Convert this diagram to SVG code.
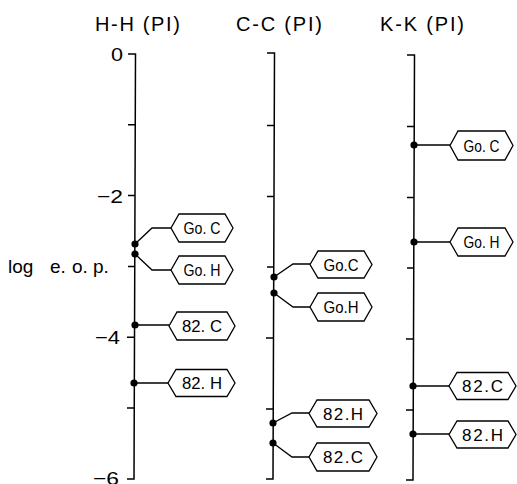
<svg xmlns="http://www.w3.org/2000/svg" width="517" height="484" viewBox="0 0 517 484">
<style>
.ax{stroke:#000;stroke-width:1.5;fill:none}
.cn{stroke:#000;stroke-width:1.3;fill:none}
.hx{stroke:#000;stroke-width:1.3;fill:#fff}
.dot{fill:#000}
.t{font-family:"Liberation Sans",Arial,sans-serif;fill:#000}
.ttl{font-size:20px}
.num{font-size:19px}
.lb{font-size:17px;text-anchor:middle}
</style>
<rect width="517" height="484" fill="#fff"/>
<g id="titles">
<text class="t ttl" x="95" y="31" textLength="85" lengthAdjust="spacing">H-H (PI)</text>
<text class="t ttl" x="236" y="31" textLength="86" lengthAdjust="spacing">C-C (PI)</text>
<text class="t ttl" x="380" y="31" textLength="84" lengthAdjust="spacing">K-K (PI)</text>
</g>
<g id="y-axis-labels">
<text class="t num" x="111" y="61" textLength="12" lengthAdjust="spacingAndGlyphs">0</text>
<text class="t num" x="97" y="203" textLength="26" lengthAdjust="spacingAndGlyphs">−2</text>
<text class="t num" x="95" y="344" textLength="25" lengthAdjust="spacingAndGlyphs">−4</text>
<text class="t num" x="93" y="485" textLength="26" lengthAdjust="spacingAndGlyphs">−6</text>
<text class="t" y="273" font-size="19"><tspan x="8">log</tspan><tspan x="50">e.</tspan><tspan x="72">o.</tspan><tspan x="93">p.</tspan></text>
</g>
<g id="axis-HH">
<path class="ax" d="M128,54 H135.5 L134,479 H127 M128,124.8 H135.5 M128,195.6 H135.5 M128,266.4 H135 M127,337.2 H135 M127,408 H134.5"/>
</g>
<g id="axis-CC">
<path class="ax" d="M267,53 H274.5 L273,479 H266 M267,125.5 H274.5 M267,196.5 H274.5 M267,267 H274 M266,338 H274 M266,409 H273.5"/>
</g>
<g id="axis-KK">
<path class="ax" d="M407,55 H414.5 L413,480 H406 M407,126.5 H414.5 M407,197.5 H414.5 M407,268 H414 M406,339 H414 M406,410 H413.5"/>
</g>
<g id="connectors">
<path class="cn" d="M135,244 L152,228 H171"/>
<path class="cn" d="M135,254 L152,270 H171"/>
<path class="cn" d="M135,325 H169"/>
<path class="cn" d="M134,383 H168"/>
<path class="cn" d="M274,277 L293,264 H310"/>
<path class="cn" d="M274,293 L293,307 H310"/>
<path class="cn" d="M273,423 L292,413 H309"/>
<path class="cn" d="M273,443 L292,457 H309"/>
<path class="cn" d="M414,145 H450"/>
<path class="cn" d="M414,242 H450"/>
<path class="cn" d="M413,386 H449"/>
<path class="cn" d="M413,434 H449"/>
<circle class="dot" cx="135" cy="244" r="3.6"/>
<circle class="dot" cx="135" cy="254" r="3.6"/>
<circle class="dot" cx="135" cy="325" r="3.6"/>
<circle class="dot" cx="134" cy="383" r="3.6"/>
<circle class="dot" cx="274" cy="277" r="3.6"/>
<circle class="dot" cx="274" cy="293" r="3.6"/>
<circle class="dot" cx="273" cy="423" r="3.6"/>
<circle class="dot" cx="273" cy="443" r="3.6"/>
<circle class="dot" cx="414" cy="145" r="3.6"/>
<circle class="dot" cx="414" cy="242" r="3.6"/>
<circle class="dot" cx="413" cy="386" r="3.6"/>
<circle class="dot" cx="413" cy="434" r="3.6"/>
</g>
<g id="HH-GoC"><path class="hx" d="M171,228 L179,214 H225 L233,228 L225,242 H179 Z"/><text class="t lb" x="202" y="234" textLength="37" lengthAdjust="spacingAndGlyphs">Go. C</text></g>
<g id="HH-GoH"><path class="hx" d="M171,270 L179,256 H225 L233,270 L225,284 H179 Z"/><text class="t lb" x="202" y="276" textLength="37" lengthAdjust="spacingAndGlyphs">Go. H</text></g>
<g id="HH-82C"><path class="hx" d="M169,326 L177,312 H227 L235,326 L227,340 H177 Z"/><text class="t lb" x="202" y="332" textLength="40" lengthAdjust="spacingAndGlyphs">82. C</text></g>
<g id="HH-82H"><path class="hx" d="M168,383 L176,369.5 H227 L235,383 L227,396.5 H176 Z"/><text class="t lb" x="202" y="389" textLength="40" lengthAdjust="spacingAndGlyphs">82. H</text></g>
<g id="CC-GoC"><path class="hx" d="M310,264.5 L318,251 H364 L372,264.5 L364,278 H318 Z"/><text class="t lb" x="341" y="270.5" textLength="35" lengthAdjust="spacingAndGlyphs">Go.C</text></g>
<g id="CC-GoH"><path class="hx" d="M310,307 L318,293 H364 L372,307 L364,321 H318 Z"/><text class="t lb" x="341" y="313" textLength="35" lengthAdjust="spacingAndGlyphs">Go.H</text></g>
<g id="CC-82H"><path class="hx" d="M309,413.5 L317,400 H369 L377,413.5 L369,427 H317 Z"/><text class="t lb" x="343" y="419.5" textLength="40" lengthAdjust="spacing">82.H</text></g>
<g id="CC-82C"><path class="hx" d="M309,457 L317,443 H369 L377,457 L369,471 H317 Z"/><text class="t lb" x="343" y="463" textLength="40" lengthAdjust="spacing">82.C</text></g>
<g id="KK-GoC"><path class="hx" d="M450,145.5 L458,131 H505 L513,145.5 L505,160 H458 Z"/><text class="t lb" x="481.5" y="151.5" textLength="36" lengthAdjust="spacingAndGlyphs">Go. C</text></g>
<g id="KK-GoH"><path class="hx" d="M450,242 L458,228 H505 L513,242 L505,256 H458 Z"/><text class="t lb" x="481.5" y="248" textLength="36" lengthAdjust="spacingAndGlyphs">Go. H</text></g>
<g id="KK-82C"><path class="hx" d="M449,386 L457,372.5 H508 L516,386 L508,399.5 H457 Z"/><text class="t lb" x="482.5" y="392" textLength="41" lengthAdjust="spacing">82.C</text></g>
<g id="KK-82H"><path class="hx" d="M449,434.5 L457,421 H508 L516,434.5 L508,448 H457 Z"/><text class="t lb" x="482.5" y="440.5" textLength="41" lengthAdjust="spacing">82.H</text></g>
</svg>
